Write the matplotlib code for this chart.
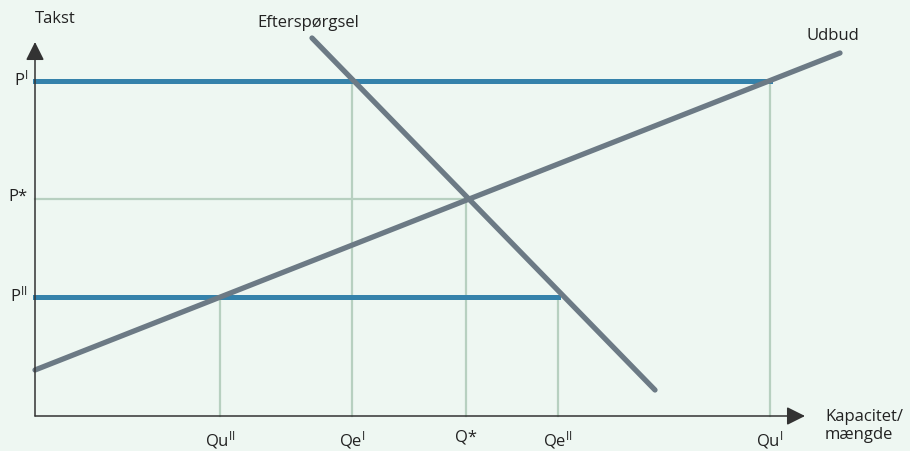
import matplotlib
matplotlib.use("Agg")
import matplotlib.pyplot as plt

# Supply/demand diagram (values in pixel-like units from the origin)
q_labels = [r"Qu$^{\rm II}$", r"Qe$^{\rm I}$", r"Q*", r"Qe$^{\rm II}$", r"Qu$^{\rm I}$"]
q_values = [185, 317, 431, 523, 735]
q_heights = [119, 335, 217, 119, 335]     # where each drop line meets its price

p_labels = [r"P$^{\rm I}$", r"P*", r"P$^{\rm II}$"]
p_values = [335, 217, 119]
p_ends = [735, 431, 523]                   # how far each price line reaches
p_is_control = [True, False, True]         # blue (regulated) vs. thin equilibrium

supply_x = [0, 805]
supply_y = [46, 363]
demand_x = [277, 620]
demand_y = [378, 26]

BG = "#eef7f2"
BLUE = "#3582ab"
GREY = "#6c7a85"
PALE = "#b7d0c0"
TXT = "#222222"

plt.rcParams["font.family"] = ["Open Sans", "DejaVu Sans"]
plt.rcParams["mathtext.fontset"] = "custom"
plt.rcParams["mathtext.rm"] = "Open Sans"
plt.rcParams["mathtext.it"] = "Open Sans"
FS = 12

fig = plt.figure(figsize=(9.1, 4.51), dpi=100, facecolor=BG)
ax = fig.add_axes([0, 0, 1, 1])
ax.set_facecolor(BG)
ax.set_xlim(-35, 875)
ax.set_ylim(-35, 416)
ax.axis("off")

# thin guide lines
for q, h in zip(q_values, q_heights):
    ax.plot([q, q], [0, h], color=PALE, lw=1.6, zorder=1)
for p, end, ctrl in zip(p_values, p_ends, p_is_control):
    if ctrl:
        ax.plot([0, end], [p, p], color=BLUE, lw=3.6, zorder=2)
    else:
        ax.plot([0, end], [p, p], color=PALE, lw=1.6, zorder=1)

# curves
ax.plot(supply_x, supply_y, color=GREY, lw=3.8, solid_capstyle="round", zorder=3)
ax.plot(demand_x, demand_y, color=GREY, lw=3.8, solid_capstyle="round", zorder=3)

# axes with arrows
arrow = dict(arrowstyle="-|>,head_length=0.7,head_width=0.35", color="#333333",
             lw=1.1, mutation_scale=16, shrinkA=0, shrinkB=0)
ax.annotate("", xy=(0, 374), xytext=(0, 0), arrowprops=arrow, zorder=4)
ax.annotate("", xy=(770, 0), xytext=(0, 0), arrowprops=arrow, zorder=4)

# labels
for q, lab in zip(q_values, q_labels):
    ax.text(q, -13, lab, ha="center", va="top", fontsize=FS, color=TXT)
for p, lab in zip(p_values, p_labels):
    ax.text(-7, p + 2, lab, ha="right", va="center", fontsize=FS, color=TXT)

ax.text(0, 397, "Takst", ha="left", va="center", fontsize=FS, color=TXT)
ax.text(222, 393, "Efterspørgsel", ha="left", va="center", fontsize=FS, color=TXT)
ax.text(772, 380, "Udbud", ha="left", va="center", fontsize=FS, color=TXT)
ax.text(790, -10, "Kapacitet/\nmængde", ha="left", va="center", fontsize=FS,
        color=TXT, linespacing=1.15)

fig.savefig("out.png", dpi=100, facecolor=BG)
plt.close(fig)
